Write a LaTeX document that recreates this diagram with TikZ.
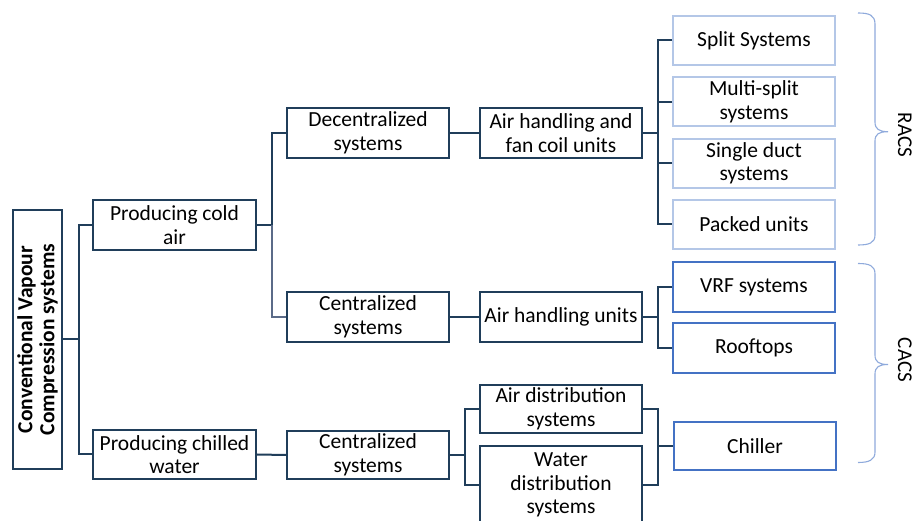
\documentclass[tikz,border=0pt]{standalone}
\usepackage{fontspec}
\setmainfont{Carlito}
\usetikzlibrary{calc}
\definecolor{navy}{HTML}{203E5A}
\definecolor{lblue}{HTML}{B4C7E7}
\definecolor{mblue}{HTML}{4472C4}
\definecolor{brc}{HTML}{8FAADC}
\definecolor{grayc}{HTML}{5B6B88}
\tikzset{
  box/.style={draw=navy, line width=2pt, minimum width=162pt, minimum height=49.5pt,
    inner sep=0pt, align=center, font=\fontsize{21.5}{23.5}\selectfont, fill=white},
  racsbox/.style={box, draw=lblue},
  cacsbox/.style={box, draw=mblue},
  conn/.style={draw=navy, line width=2pt},
  bracepath/.style={draw=brc, line width=1.1pt},
  sidelabel/.style={rotate=-90, anchor=base, inner sep=0pt, font=\fontsize{21}{23}\selectfont}
}
\begin{document}
\begin{tikzpicture}[x=1pt,y=-1pt]
\useasboundingbox (0,0) rectangle (914,521);
\clip (0,0) rectangle (914,521);
\fill[white] (0,0) rectangle (914,521);

% root
\node[box, rotate=90, minimum width=259pt, minimum height=49pt,
  font=\bfseries\fontsize{21.5}{22}\selectfont] (root) at (37.5,339.5)
  {Conventional Vapour\\Compression systems};

% level 1
\node[box, minimum width=163pt, minimum height=50pt] (pca) at (174.5,225) {Producing cold\\air};
\node[box, minimum width=163pt, minimum height=49pt] (pcw) at (174.5,454.5) {Producing chilled\\water};

% level 2
\node[box, minimum height=50pt] (dec) at (368,133) {Decentralized\\systems};
\node[box, minimum height=50pt] (cenA) at (368,317) {Centralized\\systems};
\node[box, minimum height=48.5pt] (cenB) at (368,455) {Centralized\\systems};

% level 3
\node[box, minimum height=50pt] (ahf) at (561,133) {Air handling and\\fan coil units};
\node[box, minimum height=50pt] (ahu) at (561,317) {Air handling units};
\node[box, minimum height=48.5pt] (ads) at (561,409) {Air distribution\\systems};
\node[box, minimum height=78pt] (wds) at (561,485) {Water\\distribution\\systems};

% level 4
\node[racsbox, minimum height=49pt] (split) at (754,40.5) {Split Systems};
\node[racsbox, minimum height=49pt] (multi) at (754,102) {Multi-split\\systems};
\node[racsbox, minimum height=49pt] (single) at (754,163.5) {Single duct\\systems};
\node[racsbox, minimum height=49pt] (packed) at (754,224.5) {Packed units};
\node[cacsbox, minimum height=50pt] (vrf) at (754,287) {VRF systems};
\node[cacsbox, minimum height=49.5pt] (roof) at (754,348) {Rooftops};
\node[cacsbox, minimum height=48.5pt] (chiller) at (755,446) {Chiller};

% connectors
\draw[conn] (root.south) -- +(16,0) coordinate (j1);
\draw[conn] (pca.west) -| (j1) |- (pcw.west);

\draw[conn] (pca.east) -- +(15,0) coordinate (j2);
\draw[conn] (dec.west) -| (j2);
\draw[draw=grayc, line width=2pt] (j2) |- (cenA.west);

\draw[conn] (dec.east) -- (ahf.west);
\draw[conn] (cenA.east) -- (ahu.west);
\draw[conn] (pcw.east) -- (cenB.west);

\draw[conn] (cenB.east) -- +(15,0) coordinate (j3);
\draw[conn] (ads.west) -| (j3) |- (wds.west);

\draw[conn] (ahf.east) -- +(15,0) coordinate (j4);
\draw[conn] (split.west) -| (j4) |- (packed.west);
\draw[conn] (multi.west) -- (multi.west -| j4);
\draw[conn] (single.west) -- (single.west -| j4);

\draw[conn] (ahu.east) -- +(15,0) coordinate (j5);
\draw[conn] (vrf.west) -| (j5) |- (roof.west);

\draw[conn] (ads.east) -- +(15,0) coordinate (j6);
\draw[conn] (ads.east) -| (j6) |- (wds.east);
\draw[conn] (chiller.west) -- (chiller.west -| j6);

% braces
\coordinate (rt) at (858,13);
\coordinate (rb) at (858,245);
\coordinate (rtip) at (888,131.7);
\draw[bracepath] (rt) .. controls (869,13) and (875,15) .. (875,24) -- (875,122)
  .. controls (875,129) and (879,131.7) .. (rtip)
  .. controls (879,131.7) and (875,134) .. (875,141) -- (875,235)
  .. controls (875,243) and (869,245) .. (rb);
\coordinate (ct) at (858,263.5);
\coordinate (cb) at (858,462.5);
\coordinate (ctip) at (888,364.5);
\draw[bracepath] (ct) .. controls (869,263.5) and (875,265.5) .. (875,274) -- (875,355)
  .. controls (875,362) and (879,364.5) .. (ctip)
  .. controls (879,364.5) and (875,367) .. (875,374) -- (875,452)
  .. controls (875,460) and (869,462.5) .. (cb);

\node[sidelabel] (racs) at (898,135) {RACS};
\node[sidelabel] (cacs) at (898,360) {CACS};
\end{tikzpicture}
\end{document}
